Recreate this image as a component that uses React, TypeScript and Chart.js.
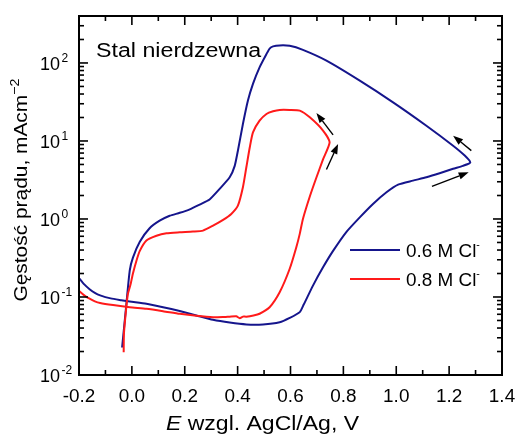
import { useEffect, useRef } from "react";
import { Chart, registerables } from "chart.js";

Chart.register(...registerables);

// Cyclic polarization curves of stainless steel, potential E (V vs AgCl/Ag)
// and current density (mA/cm²). Forward scan, then the reverse scan.
const blueE = [
  -0.2, -0.18, -0.16, -0.14, -0.12, -0.08, -0.04, -0.008, 0.055, 0.118, 0.181, 0.244, 0.307, 0.37,
  0.433, 0.496, 0.559, 0.597, 0.635, 0.65, 0.685, 0.723, 0.761, 0.811, 0.862, 0.912, 0.963, 1.007,
  1.063, 1.114, 1.164, 1.215, 1.252, 1.28,
  1.259, 1.215, 1.114, 0.988, 0.862, 0.736, 0.647, 0.597, 0.559, 0.534, 0.521, 0.509, 0.483, 0.458,
  0.439, 0.42, 0.401, 0.389, 0.37, 0.332, 0.294, 0.256, 0.219, 0.181, 0.143, 0.105, 0.067, 0.03,
  0.004, -0.008, -0.0226, -0.037,
];
const blueI = [
  0.175, 0.145, 0.126, 0.113, 0.105, 0.096, 0.091, 0.0875, 0.082, 0.074, 0.066, 0.058, 0.051, 0.047,
  0.0445, 0.0445, 0.0475, 0.054, 0.064, 0.08, 0.14, 0.24, 0.39, 0.68, 1.05, 1.56, 2.2, 2.76,
  3.1, 3.42, 3.85, 4.4, 4.8, 5.3,
  6.5, 8.7, 15.7, 31.3, 59.3, 107, 147, 166, 168, 163, 153, 130, 88, 54,
  33, 16.5, 7.5, 4.8, 3.42, 2.43, 1.78, 1.53, 1.33, 1.2, 1.1, 0.95, 0.76, 0.51,
  0.32, 0.22, 0.0703, 0.0225,
];

const redE = [
  -0.2, -0.18, -0.16, -0.14, -0.12, -0.071, -0.008, 0.055, 0.118, 0.181, 0.244, 0.307, 0.35, 0.37,
  0.395, 0.408, 0.42, 0.433, 0.46, 0.483, 0.521, 0.559, 0.597, 0.622, 0.635, 0.647, 0.673, 0.698,
  0.723, 0.748,
  0.723, 0.673, 0.635, 0.597, 0.559, 0.534, 0.509, 0.483, 0.458, 0.446, 0.433, 0.42, 0.401, 0.376,
  0.345, 0.307, 0.269, 0.231, 0.181, 0.131, 0.093, 0.055, 0.03, 0.017, 0.004, -0.004, -0.008,
  -0.015, -0.021, -0.03, -0.031,
];
const redI = [
  0.12, 0.105, 0.095, 0.088, 0.084, 0.079, 0.074, 0.0705, 0.0657, 0.0608, 0.0573, 0.055, 0.0555, 0.056,
  0.0565, 0.0535, 0.056, 0.056, 0.058, 0.061, 0.074, 0.115, 0.23, 0.434, 0.644, 1.0, 1.94, 3.4,
  5.8, 9.6,
  13.6, 20.1, 24.5, 25, 25, 24, 22.2, 18.2, 12.9, 8.3, 4.6, 2.55, 1.48, 1.16,
  0.975, 0.823, 0.71, 0.69, 0.675, 0.656, 0.61, 0.53, 0.39, 0.29, 0.2, 0.15, 0.133,
  0.11, 0.074, 0.034, 0.0196,
];

const seriesLabels = ["0.6 M Cl", "0.8 M Cl"];
const seriesColors = ["#15158c", "#ff1a1a"];

const xTicks = [-0.2, 0.0, 0.2, 0.4, 0.6, 0.8, 1.0, 1.2, 1.4];
const xTickLabels = ["-0.2", "0.0", "0.2", "0.4", "0.6", "0.8", "1.0", "1.2", "1.4"];
const yDecades = [-2, -1, 0, 1, 2];
const yTickExponents = ["-2", "-1", "0", "1", "2"];

// Scan-direction arrows: [tailE, tailI, headE, headI]
const scanArrows = [
  [0.761, 11.95, 0.698, 22.9],
  [0.736, 4.3, 0.78, 9.17],
  [1.284, 7.52, 1.215, 11.7],
  [1.135, 2.62, 1.274, 3.97],
];

const FONT = '"Liberation Sans", Arial, Helvetica, sans-serif';

type Run = { t: string; size: number; italic?: boolean; dy?: number };

function drawRuns(
  ctx: CanvasRenderingContext2D,
  runs: Run[],
  x: number,
  y: number,
  align: "left" | "center" | "right",
  sx: number
) {
  const widths = runs.map((r) => {
    ctx.font = `${r.italic ? "italic " : ""}${r.size}px ${FONT}`;
    return ctx.measureText(r.t).width * sx;
  });
  const total = widths.reduce((a, b) => a + b, 0);
  let cx = align === "center" ? x - total / 2 : align === "right" ? x - total : x;
  ctx.textAlign = "left";
  ctx.textBaseline = "alphabetic";
  runs.forEach((r, i) => {
    ctx.font = `${r.italic ? "italic " : ""}${r.size}px ${FONT}`;
    ctx.save();
    ctx.translate(cx, y + (r.dy || 0));
    ctx.scale(sx, 1);
    ctx.fillText(r.t, 0, 0);
    ctx.restore();
    cx += widths[i];
  });
}

function line(ctx: CanvasRenderingContext2D, x1: number, y1: number, x2: number, y2: number) {
  ctx.beginPath();
  ctx.moveTo(x1, y1);
  ctx.lineTo(x2, y2);
  ctx.stroke();
}

function arrow(ctx: CanvasRenderingContext2D, x1: number, y1: number, x2: number, y2: number) {
  const ang = Math.atan2(y2 - y1, x2 - x1);
  const len = 10;
  const half = 3.6;
  const bx = x2 - len * Math.cos(ang);
  const by = y2 - len * Math.sin(ang);
  ctx.lineWidth = 1.4;
  line(ctx, x1, y1, bx, by);
  ctx.beginPath();
  ctx.moveTo(x2, y2);
  ctx.lineTo(bx + half * Math.sin(ang), by - half * Math.cos(ang));
  ctx.lineTo(bx - half * Math.sin(ang), by + half * Math.cos(ang));
  ctx.closePath();
  ctx.fill();
}

const axesPlugin = {
  id: "originAxes",
  afterDraw(chart: any) {
    const { ctx, chartArea: a, scales } = chart;
    const xs = scales.x;
    const ys = scales.y;
    ctx.save();
    ctx.fillStyle = "#000";
    ctx.strokeStyle = "#000";

    // frame
    ctx.lineWidth = 2;
    ctx.strokeRect(a.left, a.top, a.right - a.left, a.bottom - a.top);

    // x ticks (inward, bottom and top)
    ctx.lineWidth = 1.6;
    for (let i = 0; i <= 16; i++) {
      const v = -0.2 + i * 0.1;
      const px = xs.getPixelForValue(v);
      const major = i % 2 === 0;
      const len = major ? 9 : 5;
      line(ctx, px, a.bottom, px, a.bottom - len);
      line(ctx, px, a.top, px, a.top + len);
    }

    // y ticks (log, inward, left and right)
    const yMax = ys.max;
    for (let d = -2; d <= 2; d++) {
      for (let k = 1; k <= 9; k++) {
        const v = k * Math.pow(10, d);
        if (v > yMax + 1e-9) continue;
        const py = ys.getPixelForValue(v);
        const len = k === 1 ? 9 : 5;
        line(ctx, a.left, py, a.left + len, py);
        line(ctx, a.right, py, a.right - len, py);
      }
    }

    // x tick labels
    xTicks.forEach((v, i) => {
      drawRuns(ctx, [{ t: xTickLabels[i], size: 18 }], xs.getPixelForValue(v), a.bottom + 27, "center", 1.05);
    });

    // y tick labels: 10 with superscript exponent
    yDecades.forEach((d, i) => {
      const py = ys.getPixelForValue(Math.pow(10, d));
      drawRuns(ctx, [{ t: "10", size: 18 }], a.left - 19, py + 7.3, "right", 1.0);
      drawRuns(ctx, [{ t: yTickExponents[i], size: 12 }], a.left - 17.5, py - 1, "left", 1.0);
    });

    // axis titles
    drawRuns(
      ctx,
      [
        { t: "E", size: 20, italic: true },
        { t: " wzgl. AgCl/Ag, V", size: 20 },
      ],
      166,
      430,
      "left",
      1.15
    );
    ctx.save();
    ctx.translate(27, 190);
    ctx.rotate(-Math.PI / 2);
    drawRuns(
      ctx,
      [
        { t: "Gęstość prądu, mAcm", size: 19 },
        { t: "−2", size: 13, dy: -8 },
      ],
      0,
      0,
      "center",
      1.1
    );
    ctx.restore();

    // sample label
    drawRuns(ctx, [{ t: "Stal nierdzewna", size: 20 }], a.left + 17, a.top + 41, "left", 1.16);

    // legend
    const legendY = [250, 279];
    seriesLabels.forEach((lab, i) => {
      ctx.strokeStyle = seriesColors[i];
      ctx.lineWidth = 2;
      line(ctx, 350, legendY[i], 400, legendY[i]);
      ctx.fillStyle = "#000";
      drawRuns(
        ctx,
        [
          { t: lab, size: 18 },
          { t: "-", size: 10, dy: -9 },
        ],
        406,
        legendY[i] + 6.5,
        "left",
        1.05
      );
    });

    // scan direction arrows
    ctx.fillStyle = "#000";
    ctx.strokeStyle = "#000";
    scanArrows.forEach(([e1, i1, e2, i2]) => {
      arrow(ctx, xs.getPixelForValue(e1), ys.getPixelForValue(i1), xs.getPixelForValue(e2), ys.getPixelForValue(i2));
    });

    ctx.restore();
  },
};

export default function App() {
  const ref = useRef<HTMLCanvasElement | null>(null);

  useEffect(() => {
    if (!ref.current) return;
    const toPoints = (xs: number[], ys: number[]) => xs.map((x, i) => ({ x, y: ys[i] }));
    const chart = new Chart(ref.current, {
      type: "scatter",
      data: {
        datasets: [
          {
            label: seriesLabels[0],
            data: toPoints(blueE, blueI),
            showLine: true,
            borderColor: seriesColors[0],
            backgroundColor: seriesColors[0],
            borderWidth: 2,
            pointRadius: 0,
            tension: 0.2,
            order: 2,
          },
          {
            label: seriesLabels[1],
            data: toPoints(redE, redI),
            showLine: true,
            borderColor: seriesColors[1],
            backgroundColor: seriesColors[1],
            borderWidth: 2,
            pointRadius: 0,
            tension: 0.2,
            order: 1,
          },
        ],
      },
      options: {
        responsive: false,
        animation: false,
        devicePixelRatio: 1,
        events: [],
        layout: { padding: { left: 79, top: 16, right: 16, bottom: 59 } },
        scales: {
          x: { type: "linear", min: -0.2, max: 1.4, display: false },
          y: { type: "logarithmic", min: 0.01, max: 400, display: false },
        },
        plugins: { legend: { display: false }, tooltip: { enabled: false } },
      },
      plugins: [axesPlugin],
    });
    return () => chart.destroy();
  }, []);

  return (
    <div style={{ position: "absolute", left: 0, top: 0, width: 518, height: 434, background: "#fff" }}>
      <canvas ref={ref} width={518} height={434} />
    </div>
  );
}
